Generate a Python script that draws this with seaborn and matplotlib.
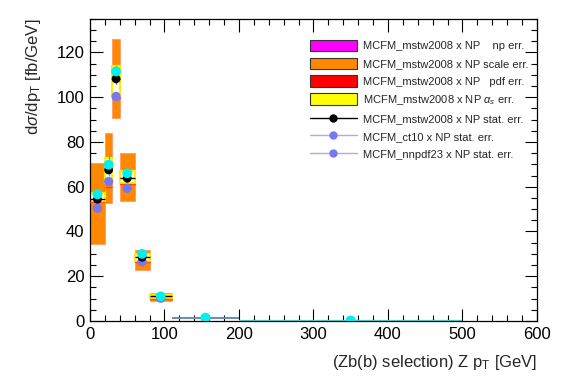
import matplotlib
matplotlib.use("Agg")
import matplotlib.pyplot as plt
import seaborn as sns
import pandas as pd
from matplotlib.patches import Rectangle
from matplotlib.lines import Line2D
from matplotlib.ticker import MultipleLocator

# ---- data ----
bin_lo = [0, 20, 30, 40, 60, 80, 110, 200]
bin_hi = [20, 30, 40, 60, 80, 110, 200, 500]
mstw = [54.4, 67.5, 108.2, 63.8, 28.5, 11.0, 1.3, 0.2]
mstw_stat = [1.2, 1.8, 2.5, 1.5, 0.8, 0.4, 0.1, 0.05]
ct10 = [50.4, 62.3, 100.3, 59.3, 26.5, 10.2, 1.2, 0.2]
ct10_stat = [1.2, 1.8, 2.5, 1.5, 0.8, 0.4, 0.1, 0.05]
nnpdf = [56.6, 69.8, 111.5, 66.0, 30.0, 11.0, 1.5, 0.2]
nnpdf_stat = [1.5, 5.0, 3.0, 2.0, 1.0, 0.4, 0.1, 0.05]
scale_lo = [34.3, 52.6, 90.6, 53.4, 22.8, 9.0]
scale_hi = [70.5, 84.0, 126.0, 75.0, 31.8, 12.4]
as_lo = [53.3, 61.5, 101.0, 61.5, 27.0, 10.5]
as_hi = [57.0, 73.0, 114.0, 67.0, 30.0, 11.8]
pdf_val = [53.0, 60.0, 99.5, 61.0, 26.5, 9.8]

legend_labels = [
    "MCFM_mstw2008 x NP    np err.",
    "MCFM_mstw2008 x NP scale err.",
    "MCFM_mstw2008 x NP   pdf err.",
    r"MCFM_mstw2008 x NP $\alpha_s$ err.",
    "MCFM_mstw2008 x NP stat. err.",
    "MCFM_ct10 x NP stat. err.",
    "MCFM_nnpdf23 x NP stat. err.",
]

sns.set_style("white")
plt.rcParams['font.family'] = ['Liberation Sans', 'DejaVu Sans']
plt.rcParams['mathtext.fontset'] = 'custom'
plt.rcParams['mathtext.rm'] = 'Liberation Sans'
plt.rcParams['mathtext.it'] = 'Liberation Sans:italic'
plt.rcParams.update({
    'xtick.bottom': True, 'xtick.top': True, 'ytick.left': True, 'ytick.right': True,
    'xtick.direction': 'in', 'ytick.direction': 'in',
    'xtick.minor.visible': True, 'ytick.minor.visible': True,
    'xtick.color': 'black', 'ytick.color': 'black',
    'xtick.labelcolor': 'black', 'ytick.labelcolor': 'black',
})

fig = plt.figure(figsize=(5.67, 3.84), dpi=100)
ax = fig.add_axes([0.1587, 0.164, 0.947 - 0.1587, 0.951 - 0.164])

orange = "#ff8800"
for i in range(len(scale_lo)):
    x0, x1 = bin_lo[i], bin_hi[i]
    w = x1 - x0
    ax.add_patch(Rectangle((x0, scale_lo[i]), w, scale_hi[i] - scale_lo[i],
                           facecolor=orange, edgecolor="#ff9966", lw=0.6, zorder=1))
    ax.add_patch(Rectangle((x0, as_lo[i]), w, as_hi[i] - as_lo[i],
                           facecolor="white", edgecolor="#ffee00", lw=1.6, zorder=2))
    ax.plot([x0, x1], [pdf_val[i], pdf_val[i]], color="#ff3322", lw=1.0, alpha=0.8, zorder=3)

centers = [(a + b) / 2 for a, b in zip(bin_lo, bin_hi)]
df = pd.DataFrame({"x": centers, "mstw": mstw, "ct10": ct10, "nnpdf": nnpdf})

blue = "#7777ee"
cyan = "#00f0f0"
ax.hlines(ct10[6:], bin_lo[6:], bin_hi[6:], color="#6f8fb0", lw=1.5, zorder=4)
ax.hlines(nnpdf[7:], bin_lo[7:], bin_hi[7:], color="#33cccc", lw=1.5, zorder=4)
ax.hlines(mstw[:6], bin_lo[:6], bin_hi[:6], color="black", lw=1.0, zorder=5)

ax.errorbar(centers, ct10, yerr=ct10_stat, fmt="none", ecolor="#9999ee", lw=1, zorder=5)
ax.errorbar(centers, mstw, yerr=mstw_stat, fmt="none", ecolor="#555555", lw=1, zorder=5)
ax.errorbar(centers, nnpdf, yerr=nnpdf_stat, fmt="none", ecolor="#33bbbb", lw=1, zorder=5)

sns.scatterplot(data=df, x="x", y="ct10", color=blue, s=45, edgecolor="none", ax=ax, zorder=6)
sns.scatterplot(data=df, x="x", y="mstw", color="black", s=40, edgecolor="none", ax=ax, zorder=7)
sns.scatterplot(data=df, x="x", y="nnpdf", color=cyan, s=50, edgecolor="none", ax=ax, zorder=8)

ax.set_xlim(0, 600)
ax.set_ylim(0, 135)
ax.xaxis.set_major_locator(MultipleLocator(100))
ax.xaxis.set_minor_locator(MultipleLocator(20))
ax.yaxis.set_major_locator(MultipleLocator(20))
ax.yaxis.set_minor_locator(MultipleLocator(5))
ax.tick_params(which="both", direction="in", top=True, right=True, bottom=True, left=True,
               labelsize=12, width=0.8, color="black", pad=4)
ax.tick_params(which="major", length=9)
ax.tick_params(which="minor", length=4.5, width=0.8)
for s in ax.spines.values():
    s.set_linewidth(0.9)
    s.set_color("black")

ax.set_xlabel(r"(Zb(b) selection) Z p$_{\mathrm{T}}$ [GeV]", fontsize=12, loc="right", labelpad=8)
ax.set_ylabel(r"d$\sigma$/dp$_{\mathrm{T}}$ [fb/GeV]", fontsize=12, loc="top", labelpad=10)

handles = [
    Rectangle((0, 0), 1, 1, facecolor="#ff00ff", edgecolor="#333333", lw=0.8),
    Rectangle((0, 0), 1, 1, facecolor=orange, edgecolor="#333333", lw=0.8),
    Rectangle((0, 0), 1, 1, facecolor="#ff0000", edgecolor="#333333", lw=0.8),
    Rectangle((0, 0), 1, 1, facecolor="#ffff00", edgecolor="#333333", lw=0.8),
    Line2D([], [], color="black", marker="o", markersize=5, lw=1),
    Line2D([], [], color="#aaaaee", marker="o", markersize=5, markerfacecolor=blue,
           markeredgecolor=blue, lw=1),
    Line2D([], [], color="#aaaaee", marker="o", markersize=5, markerfacecolor=blue,
           markeredgecolor=blue, lw=1),
]
ax.legend(handles, legend_labels, loc="upper left", bbox_to_anchor=(0.482, 0.945),
          frameon=False, fontsize=8, handlelength=4.2, handleheight=1.2,
          labelspacing=0.56, handletextpad=0.6, borderaxespad=0)

fig.savefig("out.png", dpi=100)
